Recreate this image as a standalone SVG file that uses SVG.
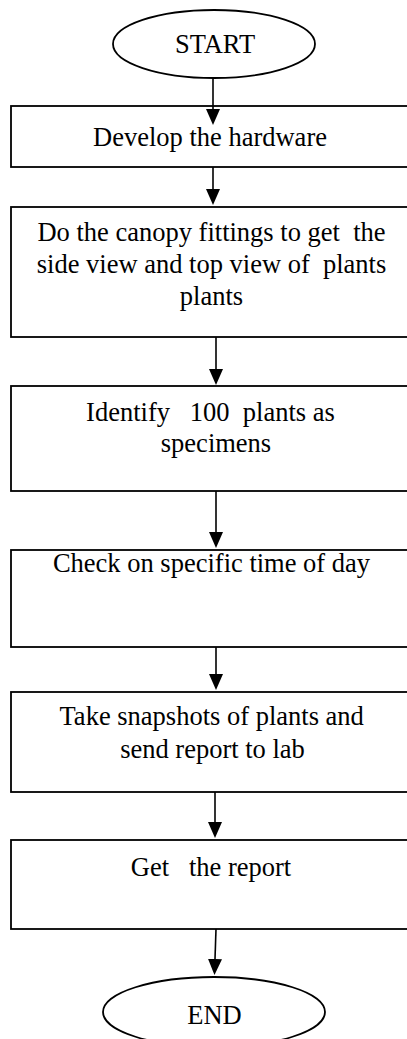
<svg xmlns="http://www.w3.org/2000/svg" width="407" height="1039" viewBox="0 0 407 1039">
<style>
.shape{fill:#fff;stroke:#000;stroke-width:1.8}
.conn{stroke:#000;stroke-width:1.6;fill:none}
text{font-family:"Liberation Serif","Times New Roman",serif;font-size:26.5px;fill:#000;text-anchor:middle}
</style>
<defs>
<marker id="ah" viewBox="0 0 16 14" refX="0" refY="7" markerWidth="16" markerHeight="14" markerUnits="userSpaceOnUse" orient="auto">
<path d="M0,0 L16,7 L0,14 z" fill="#000"/>
</marker>
</defs>
<rect width="407" height="1039" fill="#fff"/>
<g id="start">
<ellipse class="shape" cx="214" cy="44" rx="101" ry="34"/>
<text x="215" y="53">START</text>
</g>
<g id="n1">
<rect class="shape" x="11" y="106" width="420" height="61"/>
<text x="210" y="146">Develop the hardware</text>
</g>
<g id="n2">
<rect class="shape" x="11" y="207" width="420" height="130"/>
<text x="211.5" y="241" xml:space="preserve">Do the canopy fittings to get  the</text>
<text x="211.5" y="273" xml:space="preserve">side view and top view of  plants</text>
<text x="211.5" y="305">plants</text>
</g>
<g id="n3">
<rect class="shape" x="11" y="386" width="420" height="105"/>
<text x="210.5" y="421" xml:space="preserve">Identify   100  plants as</text>
<text x="216" y="452">specimens</text>
</g>
<g id="n4">
<rect class="shape" x="11" y="550" width="420" height="97"/>
<text x="211.5" y="572">Check on specific time of day</text>
</g>
<g id="n5">
<rect class="shape" x="11" y="692" width="420" height="100"/>
<text x="211.7" y="725">Take snapshots of plants and</text>
<text x="212.5" y="758">send report to lab</text>
</g>
<g id="n6">
<rect class="shape" x="11" y="840" width="420" height="89"/>
<text x="211" y="876" xml:space="preserve">Get   the report</text>
</g>
<g id="end">
<ellipse class="shape" cx="214" cy="1012" rx="111" ry="35"/>
<text x="214.5" y="1024">END</text>
</g>
<g id="connectors">
<path class="conn" d="M213,78 V109" marker-end="url(#ah)"/>
<path class="conn" d="M213,167 V189" marker-end="url(#ah)"/>
<path class="conn" d="M216,337 V369" marker-end="url(#ah)"/>
<path class="conn" d="M216,491 V532" marker-end="url(#ah)"/>
<path class="conn" d="M216,647 V674" marker-end="url(#ah)"/>
<path class="conn" d="M215,792 V822" marker-end="url(#ah)"/>
<path class="conn" d="M216,929 L215,959" marker-end="url(#ah)"/>
</g>
</svg>
